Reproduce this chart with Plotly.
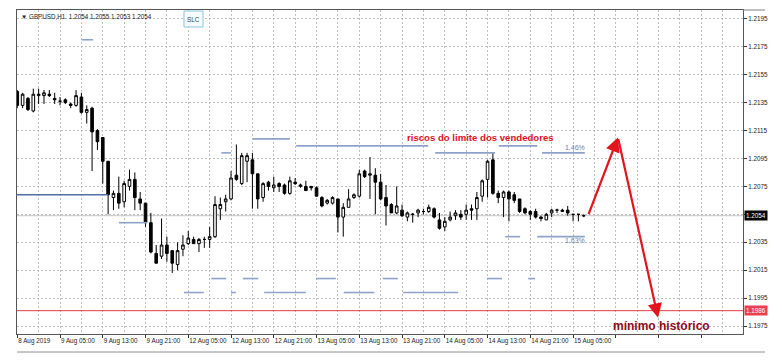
import plotly.graph_objects as go

# ---------------- data ----------------
bar_index = list(range(107))  # 8 Aug 21:00 ... 15 Aug 07:00 (H1 bars)

opens = [1.2143, 1.2133, 1.2138, 1.2129, 1.2140, 1.2140, 1.2141, 1.2138, 1.2136, 1.2137,
         1.2134, 1.2133, 1.2139, 1.2128, 1.2131, 1.2115, 1.2110, 1.2093, 1.2067, 1.2070,
         1.2064, 1.2075, 1.2080, 1.2066, 1.2063, 1.2049, 1.2027, 1.2025, 1.2033, 1.2029,
         1.2019, 1.2030, 1.2034, 1.2037, 1.2034, 1.2037, 1.2037, 1.2039, 1.2059, 1.2064,
         1.2066, 1.2083, 1.2077, 1.2093, 1.2094, 1.2084, 1.2067, 1.2078, 1.2074, 1.2077,
         1.2076, 1.2070, 1.2078, 1.2075, 1.2075, 1.2075, 1.2074, 1.2067, 1.2063, 1.2063,
         1.2066, 1.2053, 1.2060, 1.2067, 1.2068, 1.2086, 1.2083, 1.2083, 1.2078, 1.2067,
         1.2062, 1.2056, 1.2058, 1.2053, 1.2055, 1.2056, 1.2057, 1.2057, 1.2059, 1.2051,
         1.2046, 1.2051, 1.2054, 1.2055, 1.2055, 1.2059, 1.2059, 1.2068, 1.2080, 1.2094,
         1.2070, 1.2067, 1.2071, 1.2069, 1.2066, 1.2059, 1.2057, 1.2057, 1.2053, 1.2051,
         1.2056, 1.2058, 1.2057, 1.2058, 1.2055, 1.2055, 1.2054]
highs = [1.2144, 1.2142, 1.2139, 1.2145, 1.2145, 1.2144, 1.2144, 1.2142, 1.2139, 1.2138,
         1.2135, 1.2144, 1.2142, 1.2133, 1.2132, 1.2116, 1.2110, 1.2093, 1.2072, 1.2082,
         1.2079, 1.2087, 1.2085, 1.2071, 1.2063, 1.2056, 1.2033, 1.2052, 1.2039, 1.2029,
         1.2035, 1.2040, 1.2043, 1.2039, 1.2038, 1.2039, 1.2046, 1.2068, 1.2067, 1.2069,
         1.2086, 1.2105, 1.2099, 1.2099, 1.2099, 1.2084, 1.2078, 1.2079, 1.2082, 1.2078,
         1.2077, 1.2082, 1.2081, 1.2077, 1.2079, 1.2075, 1.2075, 1.2068, 1.2066, 1.2068,
         1.2066, 1.2063, 1.2073, 1.2070, 1.2087, 1.2087, 1.2096, 1.2088, 1.2084, 1.2076,
         1.2063, 1.2075, 1.2062, 1.2057, 1.2056, 1.2059, 1.2059, 1.2062, 1.2060, 1.2056,
         1.2053, 1.2057, 1.2058, 1.2058, 1.2062, 1.2062, 1.2071, 1.2080, 1.2094, 1.2099,
         1.2072, 1.2072, 1.2072, 1.2071, 1.2066, 1.2060, 1.2058, 1.2059, 1.2054, 1.2056,
         1.2059, 1.2059, 1.2059, 1.2061, 1.2055, 1.2055, 1.2055]
lows = [1.2131, 1.2131, 1.2129, 1.2128, 1.2134, 1.2134, 1.2139, 1.2134, 1.2133, 1.2134,
        1.2131, 1.2132, 1.2127, 1.2120, 1.2086, 1.2101, 1.2077, 1.2055, 1.2058, 1.2059,
        1.2060, 1.2072, 1.2058, 1.2058, 1.2046, 1.2027, 1.2020, 1.2023, 1.2021, 1.2013,
        1.2015, 1.2025, 1.2033, 1.2034, 1.2028, 1.2031, 1.2031, 1.2038, 1.2051, 1.2057,
        1.2065, 1.2079, 1.2076, 1.2078, 1.2059, 1.2059, 1.2064, 1.2072, 1.2071, 1.2071,
        1.2069, 1.2069, 1.2076, 1.2074, 1.2072, 1.2072, 1.2068, 1.2060, 1.2062, 1.2062,
        1.2042, 1.2039, 1.2060, 1.2066, 1.2067, 1.2081, 1.2066, 1.2055, 1.2065, 1.2047,
        1.2056, 1.2055, 1.2053, 1.2050, 1.2049, 1.2053, 1.2055, 1.2056, 1.2052, 1.2044,
        1.2043, 1.2050, 1.2051, 1.2051, 1.2051, 1.2051, 1.2051, 1.2064, 1.2067, 1.2069,
        1.2063, 1.2053, 1.2050, 1.2063, 1.2056, 1.2055, 1.2051, 1.2052, 1.2050, 1.2051,
        1.2053, 1.2056, 1.2057, 1.2054, 1.2050, 1.2050, 1.2053]
closes = [1.2133, 1.2141, 1.2130, 1.2141, 1.2141, 1.2142, 1.2140, 1.2137, 1.2136, 1.2135,
          1.2133, 1.2140, 1.2128, 1.2130, 1.2114, 1.2107, 1.2093, 1.2069, 1.2070, 1.2063,
          1.2077, 1.2080, 1.2067, 1.2063, 1.2049, 1.2028, 1.2020, 1.2033, 1.2027, 1.2020,
          1.2029, 1.2033, 1.2038, 1.2034, 1.2037, 1.2037, 1.2039, 1.2062, 1.2062, 1.2066,
          1.2081, 1.2080, 1.2097, 1.2097, 1.2084, 1.2066, 1.2077, 1.2075, 1.2076, 1.2075,
          1.2070, 1.2079, 1.2077, 1.2076, 1.2072, 1.2074, 1.2068, 1.2061, 1.2065, 1.2067,
          1.2053, 1.2060, 1.2066, 1.2069, 1.2084, 1.2082, 1.2084, 1.2078, 1.2066, 1.2061,
          1.2056, 1.2061, 1.2054, 1.2056, 1.2055, 1.2058, 1.2057, 1.2060, 1.2053, 1.2045,
          1.2050, 1.2053, 1.2056, 1.2053, 1.2058, 1.2058, 1.2067, 1.2079, 1.2093, 1.2070,
          1.2067, 1.2071, 1.2066, 1.2065, 1.2057, 1.2056, 1.2055, 1.2053, 1.2052, 1.2055,
          1.2058, 1.2058, 1.2058, 1.2056, 1.2055, 1.2055, 1.2054]

xtick_index = [0, 8, 16, 24, 32, 40, 48, 56, 64, 72, 80, 88, 96, 104, 112, 120, 128]
xtick_text = ["8 Aug 2019", "9 Aug 05:00", "9 Aug 13:00", "9 Aug 21:00", "12 Aug 05:00",
              "12 Aug 13:00", "12 Aug 21:00", "13 Aug 05:00", "13 Aug 13:00", "13 Aug 21:00",
              "14 Aug 05:00", "14 Aug 13:00", "14 Aug 21:00", "15 Aug 05:00", "", "", ""]
ytick_values = [1.1975, 1.1995, 1.2015, 1.2035, 1.2055, 1.2075, 1.2095, 1.2115,
                1.2135, 1.2155, 1.2175, 1.2195]
ytick_text = ["1.1975", "1.1995", "1.2015", "1.2035", "", "1.2075", "1.2095", "1.2115",
              "1.2135", "1.2155", "1.2175", "1.2195"]

title_text = "▼ GBPUSD,H1  1.2054 1.2055 1.2053 1.2054"
last_price = 1.2054
record_low = 1.1986

# horizontal level segments (start bar, end bar, price)
level_start = [12.1, 19.0, 38.2, 44.1, 52.2, 78.2, 90.1, 98.2, 91.3, 97.3,
               31.2, 36.3, 40.0, 42.2, 46.2, 55.9, 61.1, 68.4, 72.2, 87.9, 95.6]
level_end = [14.2, 24.3, 40.0, 51.0, 76.9, 89.4, 97.3, 106.2, 94.1, 106.2,
             34.9, 39.1, 40.9, 45.1, 54.0, 59.6, 66.8, 71.2, 82.5, 90.7, 96.9]
level_price = [1.2180, 1.2049, 1.2099, 1.2109, 1.2104, 1.2099, 1.2104, 1.2099, 1.2039, 1.2039,
               1.1999, 1.2009, 1.1999, 1.2009, 1.1999, 1.2009, 1.1999, 1.2009, 1.1999, 1.2009, 1.2009]
dark_level_start = [-0.05]
dark_level_end = [17.0]
dark_level_price = [1.2069]

pct_labels = ["1.46%", "1.63%"]
pct_x = [106.2, 106.2]
pct_y = [1.21025, 1.20359]

arrow_x = [106.8, 112.4, 119.9]
arrow_y = [1.2054, 1.2110, 1.1981]

note_top = "riscos do limite dos vendedores"
note_top_x, note_top_y = 72.5, 1.21103
note_low = "mínimo histórico"
note_low_x, note_low_y = 111.1, 1.1975

# ---------------- figure ----------------
X_RANGE = [-0.05, 135.8]
Y_RANGE = [1.19693, 1.22013]
FONT = "Liberation Sans, Arial, sans-serif"

fig = go.Figure()

lx, ly = [], []
for s, e, p in zip(level_start, level_end, level_price):
    lx += [s, e, None]
    ly += [p, p, None]
fig.add_trace(go.Scatter(x=lx, y=ly, mode="lines", line=dict(color="#8fa3c9", width=1.6),
                         hoverinfo="skip", showlegend=False))
dx, dy = [], []
for s, e, p in zip(dark_level_start, dark_level_end, dark_level_price):
    dx += [s, e, None]
    dy += [p, p, None]
fig.add_trace(go.Scatter(x=dx, y=dy, mode="lines", line=dict(color="#4f6fa8", width=1.4),
                         hoverinfo="skip", showlegend=False))

fig.add_trace(go.Candlestick(
    x=bar_index, open=opens, high=highs, low=lows, close=closes,
    increasing=dict(line=dict(color="#000000", width=1), fillcolor="#ffffff"),
    decreasing=dict(line=dict(color="#000000", width=1), fillcolor="#000000"),
    whiskerwidth=0, showlegend=False, hoverinfo="skip"))

fig.add_trace(go.Scatter(x=pct_x, y=pct_y, mode="text", text=pct_labels,
                         textposition="middle left",
                         textfont=dict(family=FONT, size=7, color="#6a84b6"),
                         hoverinfo="skip", showlegend=False))

shapes = [
    dict(type="line", xref="paper", yref="y", x0=0, x1=1, y0=last_price, y1=last_price,
         line=dict(color="#c4c4c4", width=1), layer="below"),
    dict(type="line", xref="paper", yref="y", x0=0, x1=1, y0=record_low, y1=record_low,
         line=dict(color="#e23a46", width=1), layer="above"),
    dict(type="line", xref="paper", yref="paper", x0=1, x1=1.0303, y0=1, y1=1,
         line=dict(color="#808080", width=1)),
    dict(type="line", xref="paper", yref="paper", x0=0, x1=1.0303, y0=-0.0556, y1=-0.0556,
         line=dict(color="#909090", width=1)),
    dict(type="rect", xref="paper", yref="paper", x0=0.230, x1=0.2562, y0=0.9475, y1=0.9969,
         line=dict(color="#8cc4dc", width=1), fillcolor="#f7fbfd"),
]

annotations = [
    dict(xref="paper", yref="paper", x=0.0028, y=0.9784, text=title_text, showarrow=False,
         xanchor="left", yanchor="middle", font=dict(family=FONT, size=6.3, color="#222222")),
    dict(xref="paper", yref="paper", x=0.2431, y=0.9722, text="SLC", showarrow=False,
         xanchor="center", yanchor="middle", font=dict(family=FONT, size=6.3, color="#334455")),
    dict(xref="x", yref="y", x=note_top_x, y=note_top_y, text="<b>" + note_top + "</b>",
         showarrow=False, xanchor="left", yanchor="middle",
         font=dict(family=FONT, size=9.6, color="#e0101c")),
    dict(xref="x", yref="y", x=note_low_x, y=note_low_y, text="<b>" + note_low + "</b>",
         showarrow=False, xanchor="left", yanchor="middle",
         font=dict(family=FONT, size=12, color="#8c0b18")),
    dict(xref="paper", yref="y", x=1.002, y=last_price, text=f"{last_price:.4f}",
         showarrow=False, xanchor="left", yanchor="middle", bgcolor="#000000", borderpad=1,
         font=dict(family=FONT, size=6.3, color="#ffffff")),
    dict(xref="paper", yref="y", x=1.002, y=record_low, text=f"{record_low:.4f}",
         showarrow=False, xanchor="left", yanchor="middle", bgcolor="#e8404e", borderpad=1,
         font=dict(family=FONT, size=6.3, color="#ffffff")),
]
for k in range(len(arrow_x) - 1):
    annotations.append(dict(
        xref="x", yref="y", axref="x", ayref="y",
        x=arrow_x[k + 1], y=arrow_y[k + 1], ax=arrow_x[k], ay=arrow_y[k],
        text="", showarrow=True, arrowhead=2, arrowsize=1.3, arrowwidth=2.2,
        arrowcolor="#e2141e", standoff=0, startstandoff=0))

fig.update_layout(
    width=782, height=362,
    margin=dict(l=17, r=39, t=10, b=28, autoexpand=False),
    paper_bgcolor="#ffffff", plot_bgcolor="#ffffff",
    showlegend=False,
    shapes=shapes, annotations=annotations,
    xaxis=dict(range=X_RANGE, rangeslider=dict(visible=False), tickmode="array",
               tickvals=xtick_index, ticktext=xtick_text, ticks="outside", ticklen=3,
               tickcolor="#333333", ticklabelposition="outside right", tickangle=0,
               automargin=False,
               tickfont=dict(family=FONT, size=6.3, color="#222222"),
               showgrid=True, gridcolor="#bdbdbd", griddash="2px,2px", gridwidth=1,
               minor=dict(tickmode="array", tickvals=[v + 4 for v in xtick_index],
                          showgrid=True, gridcolor="#bdbdbd", griddash="2px,2px", ticklen=0),
               showline=True, mirror=True, linecolor="#555555", linewidth=1,
               zeroline=False, fixedrange=True),
    yaxis=dict(range=Y_RANGE, side="right", tickmode="array", tickvals=ytick_values,
               ticktext=ytick_text, ticks="outside", ticklen=3, tickcolor="#333333",
               automargin=False,
               tickfont=dict(family=FONT, size=6.3, color="#222222"),
               showgrid=True, gridcolor="#bdbdbd", griddash="2px,2px", gridwidth=1,
               showline=True, mirror=True, linecolor="#555555", linewidth=1,
               zeroline=False, fixedrange=True),
)

fig.write_html("out.html")
